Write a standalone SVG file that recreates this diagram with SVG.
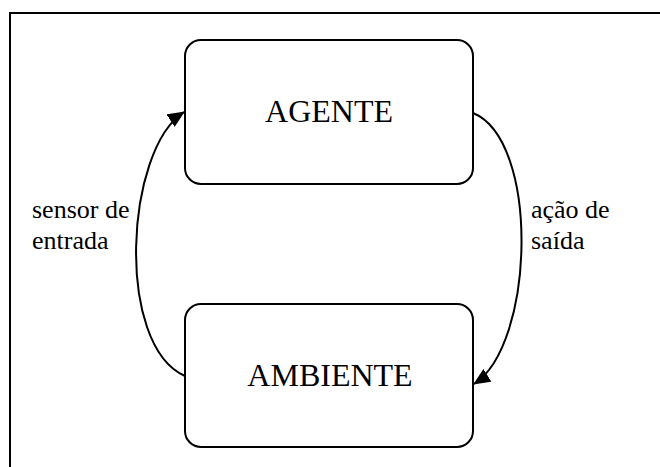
<svg xmlns="http://www.w3.org/2000/svg" width="660" height="467" viewBox="0 0 660 467">
  <style>
    .frame { fill: none; stroke: #000; stroke-width: 2; }
    .box { fill: #fff; stroke: #000; stroke-width: 2; }
    .title { font-family: "Liberation Serif", "Times New Roman", serif; font-size: 32px; fill: #000; text-anchor: middle; }
    .lbl { font-family: "Liberation Serif", "Times New Roman", serif; font-size: 26px; fill: #000; }
    .conn { fill: none; stroke: #000; stroke-width: 2; }
  </style>
  <defs>
    <marker id="arrow" markerWidth="17" markerHeight="15" refX="16" refY="7.5" orient="auto" markerUnits="userSpaceOnUse">
      <path d="M0,0 L17,7.5 L0,15 Z" fill="#000"/>
    </marker>
  </defs>
  <rect class="frame" x="10" y="13" width="700" height="500"/>
  <g id="agente">
    <rect class="box" x="185" y="40" width="288" height="144" rx="16" ry="16"/>
    <text class="title" x="329" y="122">AGENTE</text>
  </g>
  <g id="ambiente">
    <rect class="box" x="185" y="304" width="288" height="143" rx="16" ry="16"/>
    <text class="title" x="330" y="386">AMBIENTE</text>
  </g>
  <g id="connectors">
    <path class="conn" d="M185,376 C115,345 125,150 184,112" marker-end="url(#arrow)"/>
    <path class="conn" d="M473,113 C540,140 535,345 474,384" marker-end="url(#arrow)"/>
  </g>
  <g id="labels">
    <text class="lbl" font-family="Liberation Serif, serif" x="32" y="218">sensor de</text>
    <text class="lbl" font-family="Liberation Serif, serif" x="32" y="249">entrada</text>
    <text class="lbl" font-family="Liberation Serif, serif" x="531" y="218">ação de</text>
    <text class="lbl" font-family="Liberation Serif, serif" x="531" y="249">saída</text>
  </g>
</svg>
